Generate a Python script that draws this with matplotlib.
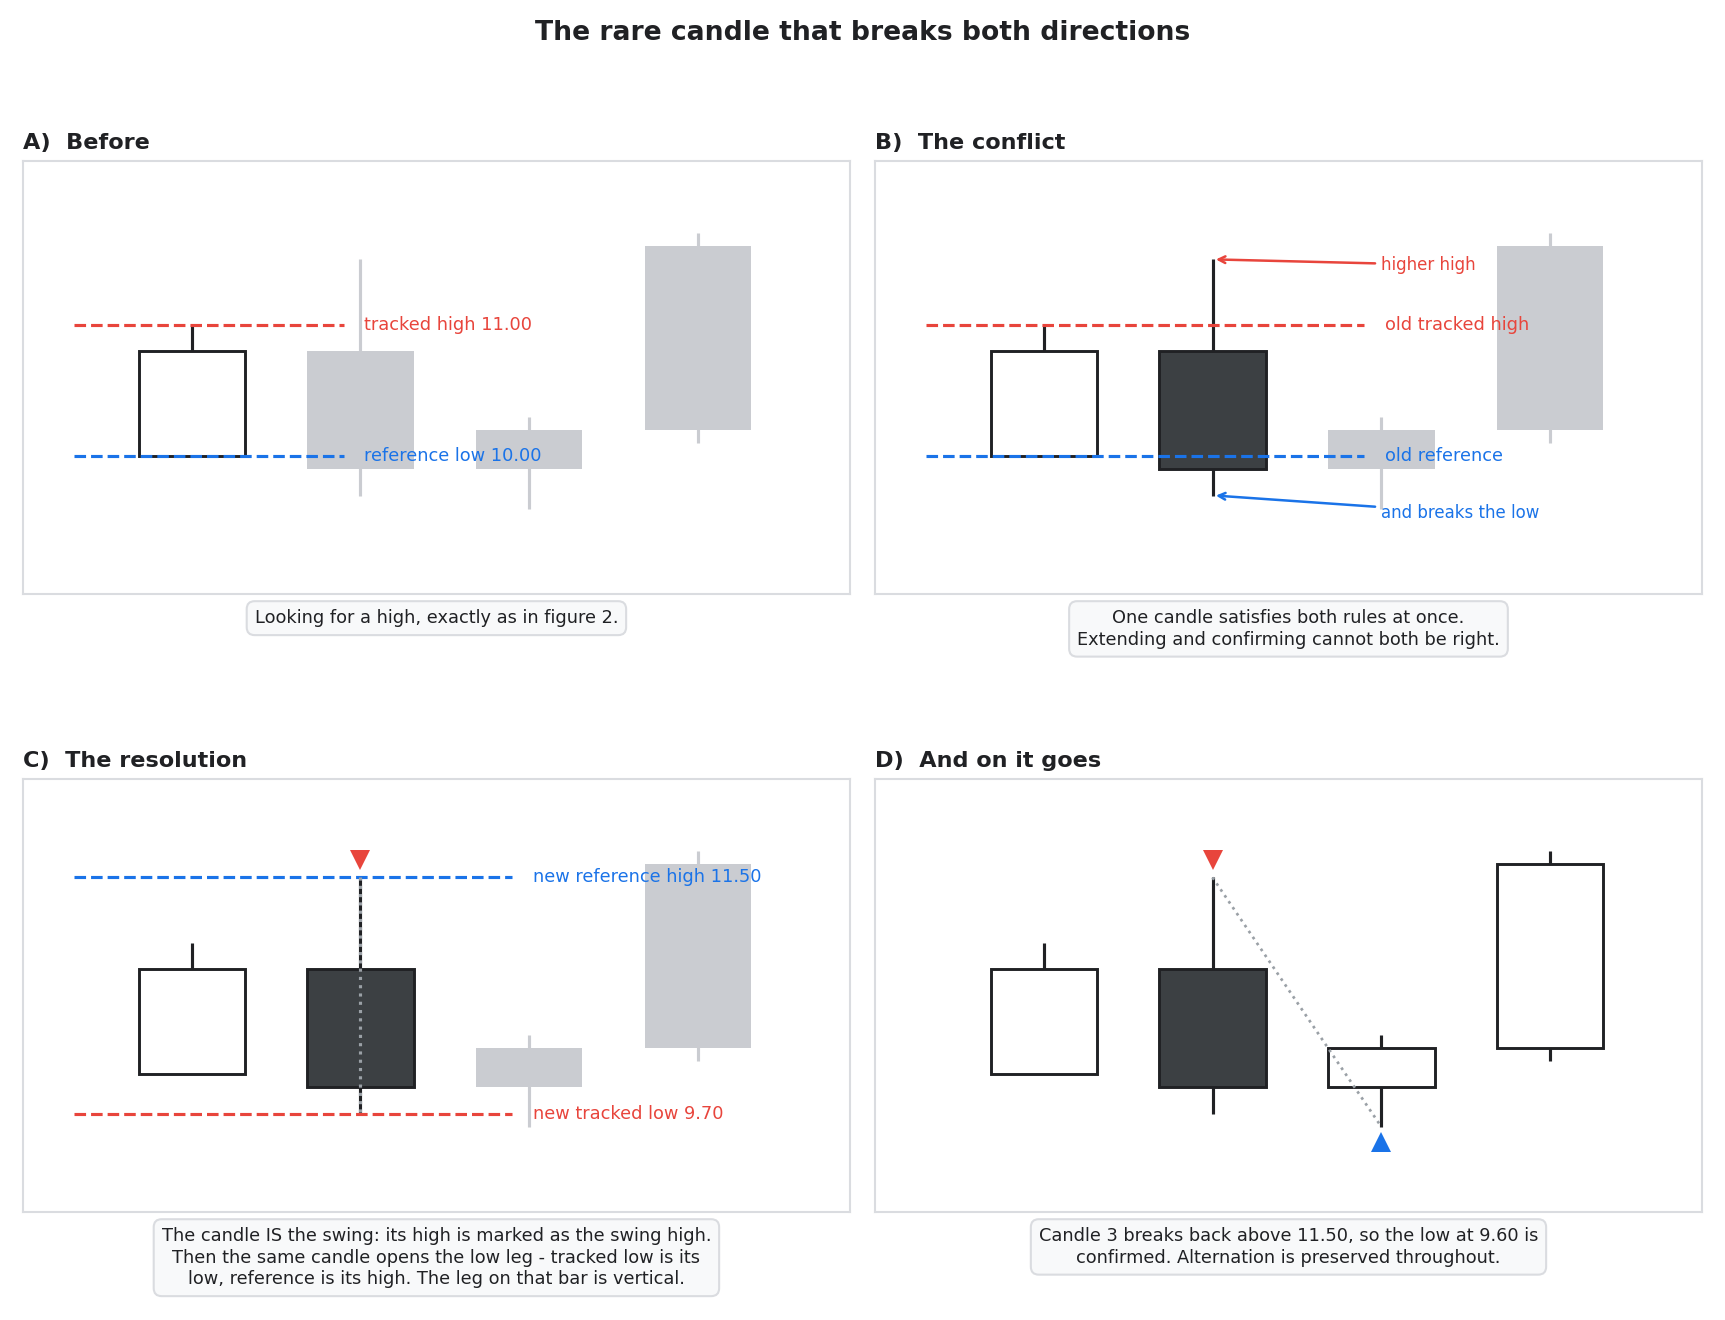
import numpy as np
import matplotlib
matplotlib.use("Agg")
import matplotlib.pyplot as plt
from matplotlib.patches import Rectangle

# velas (indice 0..3)
opens = [10.0, 10.8, 9.9, 10.2]
highs = [11.0, 11.5, 10.3, 11.7]
lows = [10.0, 9.7, 9.6, 10.1]
closes = [10.8, 9.9, 10.2, 11.6]

tracked_high = 11.00
reference_low = 10.00
new_reference_high = 11.50
new_tracked_low = 9.70
confirmed_low = 9.60

panel_titles = ["A)  Before", "B)  The conflict", "C)  The resolution", "D)  And on it goes"]
captions = [
    "Looking for a high, exactly as in figure 2.",
    "One candle satisfies both rules at once.\nExtending and confirming cannot both be right.",
    "The candle IS the swing: its high is marked as the swing high.\n"
    "Then the same candle opens the low leg - tracked low is its\n"
    "low, reference is its high. The leg on that bar is vertical.",
    "Candle 3 breaks back above 11.50, so the low at 9.60 is\n"
    "confirmed. Alternation is preserved throughout.",
]
# cuantas velas estan "activas" en cada panel
active = [1, 2, 2, 4]

RED = "#e8453c"
BLUE = "#1a73e8"
INK = "#202124"
DARK = "#3c4043"
GREY = "#caccd1"
FRAME = "#dadce0"
DOT = "#9aa0a6"

W = 0.63


def draw_candle(ax, i, on):
    o, h, l, c = opens[i], highs[i], lows[i], closes[i]
    lo, hi = min(o, c), max(o, c)
    if on:
        face = "white" if c >= o else DARK
        ax.plot([i, i], [l, h], color=INK, lw=1.5, zorder=2, solid_capstyle="butt")
        ax.add_patch(Rectangle((i - W / 2, lo), W, hi - lo, facecolor=face,
                               edgecolor=INK, lw=1.4, zorder=3))
    else:
        ax.plot([i, i], [l, h], color=GREY, lw=1.5, zorder=1, solid_capstyle="butt")
        ax.add_patch(Rectangle((i - W / 2, lo), W, hi - lo, facecolor=GREY,
                               edgecolor="none", zorder=1))


fig = plt.figure(figsize=(11.5, 8.8), dpi=150)
fig.text(0.5, 0.975, "The rare candle that breaks both directions", ha="center", va="center",
         fontsize=12.75, fontweight="bold", color=INK)

rects = [
    [0.0133, 0.55, 0.4794, 0.328],
    [0.5072, 0.55, 0.4795, 0.328],
    [0.0133, 0.0818, 0.4794, 0.328],
    [0.5072, 0.0818, 0.4795, 0.328],
]

axes = []
for k, r in enumerate(rects):
    ax = fig.add_axes(r)
    ax.set_xlim(-1.0, 3.9)
    ax.set_ylim(8.95, 12.25)
    ax.set_xticks([])
    ax.set_yticks([])
    for s in ax.spines.values():
        s.set_color(FRAME)
        s.set_linewidth(1.0)
    ax.set_title(panel_titles[k], loc="left", fontsize=10.75, fontweight="bold", color=INK, pad=6)
    for i in range(4):
        draw_candle(ax, i, i < active[k])
    ax.text(0.5, -0.035, captions[k], transform=ax.transAxes, ha="center", va="top",
            fontsize=8.5, color=INK, linespacing=1.25,
            bbox=dict(boxstyle="round,pad=0.45", facecolor="#f8f9fa", edgecolor=FRAME, lw=1.0))
    axes.append(ax)

# A) antes
ax = axes[0]
ax.hlines(tracked_high, -0.7, 0.9, colors=RED, linestyles="--", lw=1.5, zorder=4)
ax.hlines(reference_low, -0.7, 0.9, colors=BLUE, linestyles="--", lw=1.5, zorder=4)
ax.text(1.02, tracked_high, f"tracked high {tracked_high:.2f}", color=RED, fontsize=8.5, va="center")
ax.text(1.02, reference_low, f"reference low {reference_low:.2f}", color=BLUE, fontsize=8.5, va="center")

# B) el conflicto
ax = axes[1]
ax.hlines(tracked_high, -0.7, 1.9, colors=RED, linestyles="--", lw=1.5, zorder=4)
ax.hlines(reference_low, -0.7, 1.9, colors=BLUE, linestyles="--", lw=1.5, zorder=4)
ax.text(2.02, tracked_high, "old tracked high", color=RED, fontsize=8.5, va="center", zorder=5)
ax.text(2.02, reference_low, "old reference", color=BLUE, fontsize=8.5, va="center", zorder=5)
ax.annotate("higher high", xy=(1.02, highs[1]), xytext=(2.0, highs[1] - 0.04),
            color=RED, fontsize=8, va="center",
            arrowprops=dict(arrowstyle="->", color=RED, lw=1.2, shrinkA=1, shrinkB=0))
ax.annotate("and breaks the low", xy=(1.02, lows[1]), xytext=(2.0, lows[1] - 0.13),
            color=BLUE, fontsize=8, va="center",
            arrowprops=dict(arrowstyle="->", color=BLUE, lw=1.2, shrinkA=1, shrinkB=0))

# C) la resolucion
ax = axes[2]
ax.hlines(new_reference_high, -0.7, 1.9, colors=BLUE, linestyles="--", lw=1.5, zorder=4)
ax.hlines(new_tracked_low, -0.7, 1.9, colors=RED, linestyles="--", lw=1.5, zorder=4)
ax.text(2.02, new_reference_high, f"new reference high {new_reference_high:.2f}", color=BLUE,
        fontsize=8.5, va="center", zorder=5)
ax.text(2.02, new_tracked_low, f"new tracked low {new_tracked_low:.2f}", color=RED,
        fontsize=8.5, va="center", zorder=5)
ax.plot([1, 1], [highs[1], lows[1]], color=DOT, ls=":", lw=1.5, zorder=5)
ax.plot(1, highs[1] + 0.13, marker="v", ms=10, color=RED, mec="none", zorder=6)

# D) y sigue
ax = axes[3]
ax.plot([1, 2], [highs[1], lows[2]], color=DOT, ls=":", lw=1.3, zorder=5)
ax.plot(1, highs[1] + 0.13, marker="v", ms=10, color=RED, mec="none", zorder=6)
ax.plot(2, lows[2] - 0.12, marker="^", ms=10, color=BLUE, mec="none", zorder=6)

fig.savefig("out.png", dpi=150)
